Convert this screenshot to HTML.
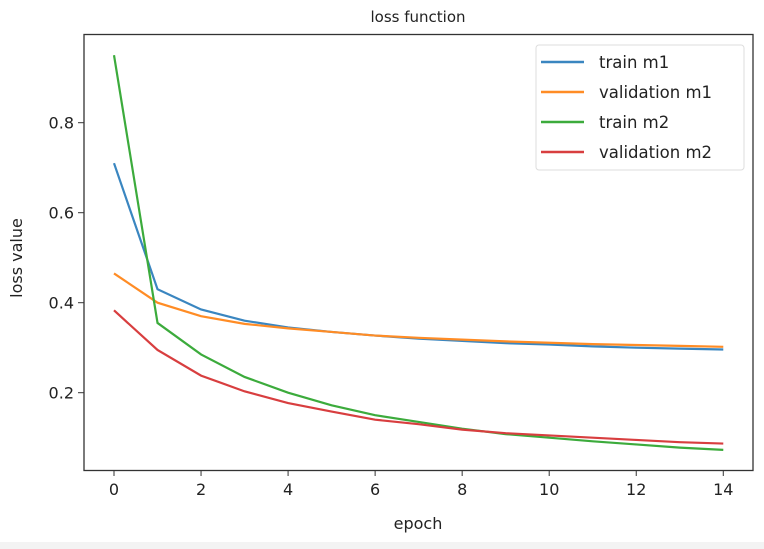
<!DOCTYPE html>
<html><head><meta charset="utf-8"><style>
body{margin:0;background:#fff;width:764px;height:549px;overflow:hidden;font-family:"DejaVu Sans","Liberation Sans",sans-serif}
</style></head><body>
<svg width="764" height="549" style="position:absolute;left:0;top:0">
<rect x="0" y="542" width="764" height="7" fill="#f3f3f3"/>
<text x="418" y="22" font-size="15" text-anchor="middle" fill="#222">loss function</text>
<g id="plot"></g>
<rect x="84" y="34.5" width="669" height="436" fill="none" stroke="#333" stroke-width="1.3"/>
<text x="418" y="529" font-size="16" text-anchor="middle" fill="#222">epoch</text>
<text transform="translate(22,258) rotate(-90)" font-size="16" text-anchor="middle" fill="#222">loss value</text>
<g>
<rect x="536" y="45" width="208" height="125" rx="3" fill="#fff" stroke="#ddd"/>
<g id="legend"></g>
</g>
</svg>
<script>
const epochs=[0,1,2,3,4,5,6,7,8,9,10,11,12,13,14];
const trainM1=[0.71,0.43,0.385,0.36,0.345,0.335,0.327,0.32,0.315,0.31,0.307,0.303,0.300,0.298,0.296];
const valM1=[0.465,0.40,0.37,0.353,0.343,0.335,0.327,0.322,0.318,0.314,0.311,0.308,0.306,0.304,0.302];
const trainM2=[0.95,0.355,0.285,0.235,0.2,0.172,0.15,0.135,0.12,0.108,0.1,0.092,0.085,0.078,0.073];
const valM2=[0.383,0.295,0.238,0.203,0.177,0.158,0.14,0.13,0.118,0.11,0.105,0.1,0.095,0.09,0.087];
const seriesNames=["train m1","validation m1","train m2","validation m2"];
const xTicks=[0,2,4,6,8,10,12,14];
const yTicks=[0.2,0.4,0.6,0.8];
const colors=["#3a86c0","#ff8c25","#3cab3c","#d83e3f"];
const NS="http://www.w3.org/2000/svg";
const X=v=>114+v*43.52;
const Y=v=>482.7-v*450;
const plot=document.getElementById('plot');
function mk(t,a,p){const e=document.createElementNS(NS,t);for(const k in a)e.setAttribute(k,a[k]);(p||plot).appendChild(e);return e;}
xTicks.forEach(t=>{
 const l=mk('line',{x1:X(t),x2:X(t),y1:470.5,y2:476,stroke:'#333'});
 
 
 const tx=mk('text',{x:X(t),y:495,'font-size':16,'text-anchor':'middle',fill:'#222'});
 tx.textContent=t;
 
 
});
yTicks.forEach(t=>{
 const l=mk('line',{x1:78,x2:84,y1:Y(t),y2:Y(t),stroke:'#333'});
 
 
 const tx=mk('text',{x:74,y:Y(t)+6,'font-size':16,'text-anchor':'end',fill:'#222'});
 tx.textContent=t.toFixed(1);
 
 
});
[trainM1,valM1,trainM2,valM2].forEach((s,i)=>{
 const p=mk('polyline',{points:s.map((v,j)=>X(epochs[j])+','+Y(v)).join(' '),fill:'none',stroke:colors[i],'stroke-width':2.2});
 
 
});
const lg=document.getElementById('legend');
seriesNames.forEach((n,i)=>{
 const y=62+i*30;
 const l=mk('line',{x1:541,x2:584,y1:y,y2:y,stroke:colors[i],'stroke-width':2.4},lg);
 
 
 const t=mk('text',{x:599,y:y+6,'font-size':16.5,fill:'#222'},lg);
 t.textContent=n;
 
 
});
</script>
</body></html>
